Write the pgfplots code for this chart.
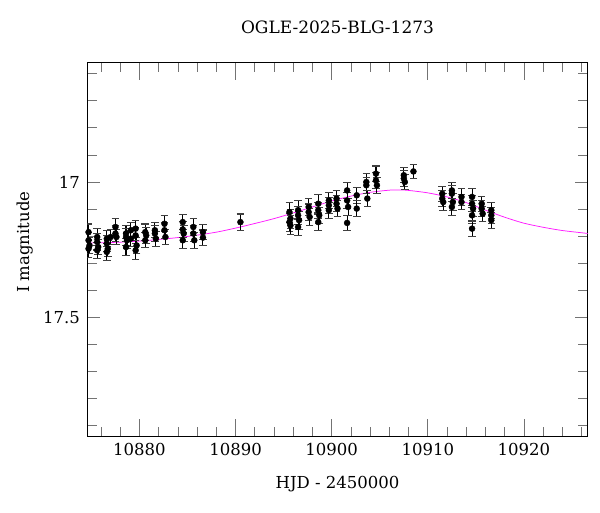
\documentclass[border=0pt]{standalone}
\usepackage{pgfplots}
\usepackage{pgfplotstable}
\pgfplotsset{compat=1.18}
\usepackage{fontspec}
\setmainfont{DejaVu Serif}
\pgfplotstableread{
x y e
10874.7 17.185 0.030
10874.7 17.215 0.028
10874.8 17.234 0.030
10874.7 17.246 0.032
10875.6 17.203 0.030
10875.6 17.221 0.030
10875.7 17.240 0.028
10875.6 17.252 0.030
10876.6 17.209 0.030
10876.6 17.227 0.030
10876.7 17.246 0.030
10876.6 17.258 0.030
10877.0 17.203 0.028
10877.5 17.166 0.030
10877.5 17.190 0.030
10877.6 17.203 0.028
10878.6 17.190 0.030
10878.6 17.203 0.030
10878.7 17.215 0.030
10878.6 17.240 0.032
10879.1 17.178 0.030
10879.1 17.209 0.030
10879.6 17.172 0.030
10879.6 17.197 0.030
10879.7 17.234 0.030
10879.6 17.252 0.035
10880.6 17.185 0.030
10880.7 17.197 0.030
10880.6 17.215 0.028
10881.6 17.178 0.028
10881.6 17.190 0.030
10881.7 17.209 0.028
10882.6 17.154 0.030
10882.6 17.178 0.030
10882.7 17.203 0.028
10884.5 17.148 0.028
10884.5 17.175 0.030
10884.6 17.190 0.030
10884.5 17.215 0.030
10885.6 17.166 0.030
10885.6 17.190 0.028
10885.7 17.215 0.030
10886.6 17.185 0.028
10886.6 17.205 0.028
10890.5 17.148 0.030
10895.6 17.111 0.037
10895.7 17.135 0.035
10895.6 17.148 0.033
10895.7 17.160 0.035
10896.5 17.104 0.035
10896.5 17.123 0.033
10896.6 17.141 0.033
10896.5 17.166 0.033
10897.6 17.092 0.030
10897.6 17.111 0.030
10897.7 17.129 0.030
10898.6 17.080 0.033
10898.6 17.104 0.030
10898.7 17.123 0.030
10898.6 17.148 0.030
10899.7 17.068 0.030
10899.7 17.086 0.030
10899.7 17.104 0.030
10900.5 17.061 0.030
10900.5 17.080 0.030
10900.6 17.098 0.030
10901.6 17.031 0.030
10901.6 17.068 0.030
10901.7 17.092 0.030
10901.6 17.151 0.028
10902.6 17.049 0.030
10902.6 17.098 0.030
10903.6 17.000 0.030
10903.6 17.012 0.030
10903.7 17.061 0.030
10904.6 16.969 0.028
10904.6 16.994 0.030
10904.7 17.012 0.030
10907.5 16.975 0.028
10907.5 16.987 0.028
10907.6 17.000 0.028
10908.5 16.961 0.025
10911.5 17.043 0.028
10911.5 17.061 0.030
10911.6 17.074 0.030
10912.5 17.031 0.030
10912.5 17.043 0.030
10912.6 17.074 0.030
10912.5 17.092 0.030
10913.5 17.055 0.030
10913.5 17.074 0.028
10914.6 17.055 0.030
10914.6 17.080 0.030
10914.7 17.098 0.030
10914.6 17.123 0.030
10914.6 17.172 0.028
10915.6 17.080 0.028
10915.6 17.098 0.030
10915.7 17.117 0.028
10916.6 17.104 0.030
10916.6 17.123 0.030
10916.6 17.141 0.030
}\datatable
\pgfplotstableread{
x y
10874.5 17.225
10876 17.224
10878 17.222
10880 17.218
10882 17.212
10884 17.205
10886 17.196
10888 17.185
10890 17.170
10892 17.153
10894 17.135
10896 17.114
10898 17.092
10900 17.070
10902 17.052
10904 17.038
10906 17.030
10907 17.029
10908 17.031
10910 17.040
10912 17.055
10914 17.076
10916 17.104
10918 17.130
10920 17.152
10922 17.167
10924 17.179
10926.7 17.190
}\modeltable
\begin{document}
\begin{tikzpicture}
\begin{axis}[
  scale only axis,
  width=500.4pt, height=374.7pt,
  xmin=10874.57, xmax=10926.63,
  ymin=16.557, ymax=17.94,
  y dir=reverse,
  axis line style={black, line width=0.8pt},
  scaled x ticks=false,
  xtick={10880,10890,10900,10910,10920},
  xticklabels={10880,10890,10900,10910,10920},
  minor xtick={10876,10878,...,10926},
  ytick={17,17.5},
  yticklabels={17,17.5},
  minor ytick={16.6,16.7,...,17.95},
  tick align=inside,
  xtick pos=both, ytick pos=both,
  tick style={black!55, line width=0.8pt},
  major tick length=13pt,
  minor tick length=9.5pt,
  major x tick style={/pgfplots/major tick length=18pt},
  tick label style={font=\fontsize{16.5}{19}\selectfont},
  xticklabel style={yshift=-3pt},
  yticklabel style={xshift=-4pt},
  xlabel={HJD - 2450000},
  ylabel={I magnitude},
  title={OGLE-2025-BLG-1273},
  label style={font=\fontsize{16.5}{19}\selectfont},
  xlabel style={at={(axis description cs:0.5,0)}, anchor=north, inner sep=0pt, yshift=-39pt},
  ylabel style={at={(axis description cs:-0.1165,0.519)}, anchor=base, inner sep=0pt},
  title style={font=\fontsize{17}{20}\selectfont, at={(axis description cs:0.5,1)}, anchor=south, inner sep=0pt, yshift=22pt},
  clip=true,
]
\addplot[color={rgb,1:red,1;green,0.1;blue,1}, line width=0.75pt, smooth] table[x=x, y=y] {\modeltable};
\addplot[only marks, mark=*, mark size=3pt, black,
  error bars/.cd, y dir=both, y explicit,
  error bar style={black, line width=1.1pt},
  error mark options={rotate=90, mark size=3.8pt, black!75, line width=1.1pt}]
  table[x=x, y=y, y error=e] {\datatable};
\end{axis}
\path ([shift={(-87.3pt,-75.3pt)}]current axis.south west) rectangle ([shift={(12.3pt,62pt)}]current axis.north east);
\end{tikzpicture}
\end{document}
